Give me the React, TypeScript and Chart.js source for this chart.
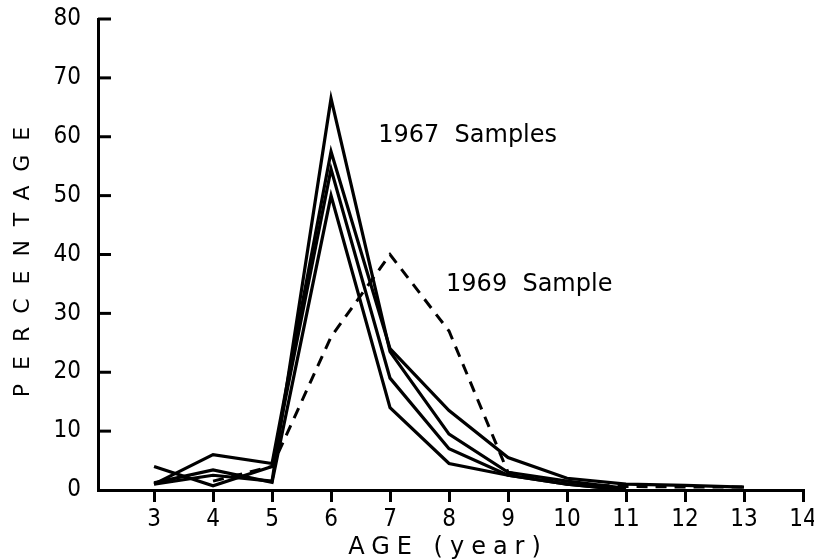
import React, { useEffect, useRef } from "react";
import { Chart, registerables } from "chart.js";

Chart.register(...registerables);

const ages = [3, 4, 5, 6, 7, 8, 9, 10, 11, 12, 13];
const sample1967a = [1, 2.5, 1.5, 66.5, 23.5, 9.5, 3, 1.5, 0.3, null, null];
const sample1967b = [1, 6, 4.5, 57.5, 24, 13.5, 5.5, 2, 1, 0.8, 0.5];
const sample1967c = [4, 0.7, 4, 54.5, 19, 7, 2.5, 1, 0, null, null];
const sample1967d = [1.2, 3.4, 1.3, 50, 14, 4.5, 2.5, 1, 0, null, null];
const sample1969 = [null, 1.5, 4, 26, 40, 27, 3, 1, 0.6, 0.5, 0.5];

const xTicks = [3, 4, 5, 6, 7, 8, 9, 10, 11, 12, 13, 14];
const yTicks = [0, 10, 20, 30, 40, 50, 60, 70, 80];

const labels1967 = "1967  Samples";
const labels1969 = "1969  Sample";
const xTitle = "AGE (year)";
const yTitle = "PERCENTAGE";

const FONT = "'DejaVu Sans', sans-serif";
const TICKFONT = "'DejaVu Sans Condensed', 'DejaVu Sans', sans-serif";

const toPts = (arr: (number | null)[]) =>
  ages.map((a, i) => ({ x: a, y: arr[i] as any }));

export default function App() {
  const ref = useRef<HTMLCanvasElement>(null);
  useEffect(() => {
    document.body.style.margin = "0";
    const canvas = ref.current!;
    const solid = (d: (number | null)[]) => ({
      data: toPts(d),
      borderColor: "#000",
      borderWidth: 3.2,
      pointRadius: 0,
      tension: 0,
      fill: false,
      spanGaps: false,
    });
    const decor = {
      id: "decor",
      afterDraw(chart: any) {
        const ctx = chart.ctx;
        const x = chart.scales.x;
        const y = chart.scales.y;
        const ca = chart.chartArea;
        ctx.save();
        ctx.strokeStyle = "#000";
        ctx.lineWidth = 3;
        // inward y ticks
        yTicks.forEach((v) => {
          const py = y.getPixelForValue(v);
          if (v === 0) return;
          ctx.beginPath();
          ctx.moveTo(ca.left, py);
          ctx.lineTo(ca.left + 13, py);
          ctx.stroke();
        });
        ctx.fillStyle = "#000";
        // annotations
        ctx.font = `24px ${FONT}`;
        (ctx as any).letterSpacing = "0px";
        ctx.textAlign = "left";
        ctx.textBaseline = "middle";
        ctx.fillText(labels1967, x.getPixelForValue(6.8), y.getPixelForValue(60.1));
        ctx.fillText(labels1969, x.getPixelForValue(7.95), y.getPixelForValue(34.9));
        // y title
        ctx.font = `22px ${FONT}`;
        (ctx as any).letterSpacing = "14px";
        ctx.save();
        ctx.translate(23, 255);
        ctx.rotate(-Math.PI / 2);
        ctx.textAlign = "center";
        ctx.fillText(yTitle, 0, 0);
        ctx.restore();
        // x title
        ctx.font = `24px ${FONT}`;
        (ctx as any).letterSpacing = "7px";
        ctx.textAlign = "center";
        ctx.fillText(xTitle, 448, 548);
        ctx.restore();
      },
    };
    const chart = new Chart(canvas, {
      type: "line",
      data: {
        datasets: [
          solid(sample1967a),
          solid(sample1967b),
          solid(sample1967c),
          solid(sample1967d),
          {
            data: toPts(sample1969),
            borderColor: "#000",
            borderWidth: 3,
            borderDash: [11, 8],
            pointRadius: 0,
            tension: 0,
            fill: false,
          },
        ],
      },
      options: {
        animation: false,
        responsive: false,
        maintainAspectRatio: false,
        layout: { padding: { top: 19, right: 11, left: 0, bottom: 0 } },
        plugins: { legend: { display: false }, tooltip: { enabled: false } },
        scales: {
          x: {
            type: "linear",
            min: 2.05,
            max: 14,
            afterBuildTicks: (s: any) => {
              s.ticks = xTicks.map((v) => ({ value: v }));
            },
            afterFit: (s: any) => {
              s.height = 70;
              s.paddingLeft = 0;
              s.paddingRight = 0;
            },
            ticks: {
              color: "#000",
              font: { family: TICKFONT, size: 24 },
              padding: 3,
              maxRotation: 0,
              autoSkip: false,
            },
            grid: {
              display: true,
              drawOnChartArea: false,
              drawTicks: true,
              tickLength: 12,
              color: "#000",
              lineWidth: 3,
            },
            border: { display: true, color: "#000", width: 3 },
          },
          y: {
            type: "linear",
            min: 0,
            max: 80,
            afterBuildTicks: (s: any) => {
              s.ticks = yTicks.map((v) => ({ value: v }));
            },
            afterFit: (s: any) => {
              s.width = 98;
              s.paddingTop = 0;
              s.paddingBottom = 0;
            },
            ticks: {
              color: "#000",
              font: { family: TICKFONT, size: 24 },
              padding: 9,
              autoSkip: false,
            },
            grid: { display: false },
            border: { display: true, color: "#000", width: 3 },
          },
        },
      },
      plugins: [decor],
    } as any);
    return () => chart.destroy();
  }, []);
  return (
    <canvas
      ref={ref}
      width={814}
      height={560}
      style={{ display: "block", width: 814, height: 560 }}
    />
  );
}
